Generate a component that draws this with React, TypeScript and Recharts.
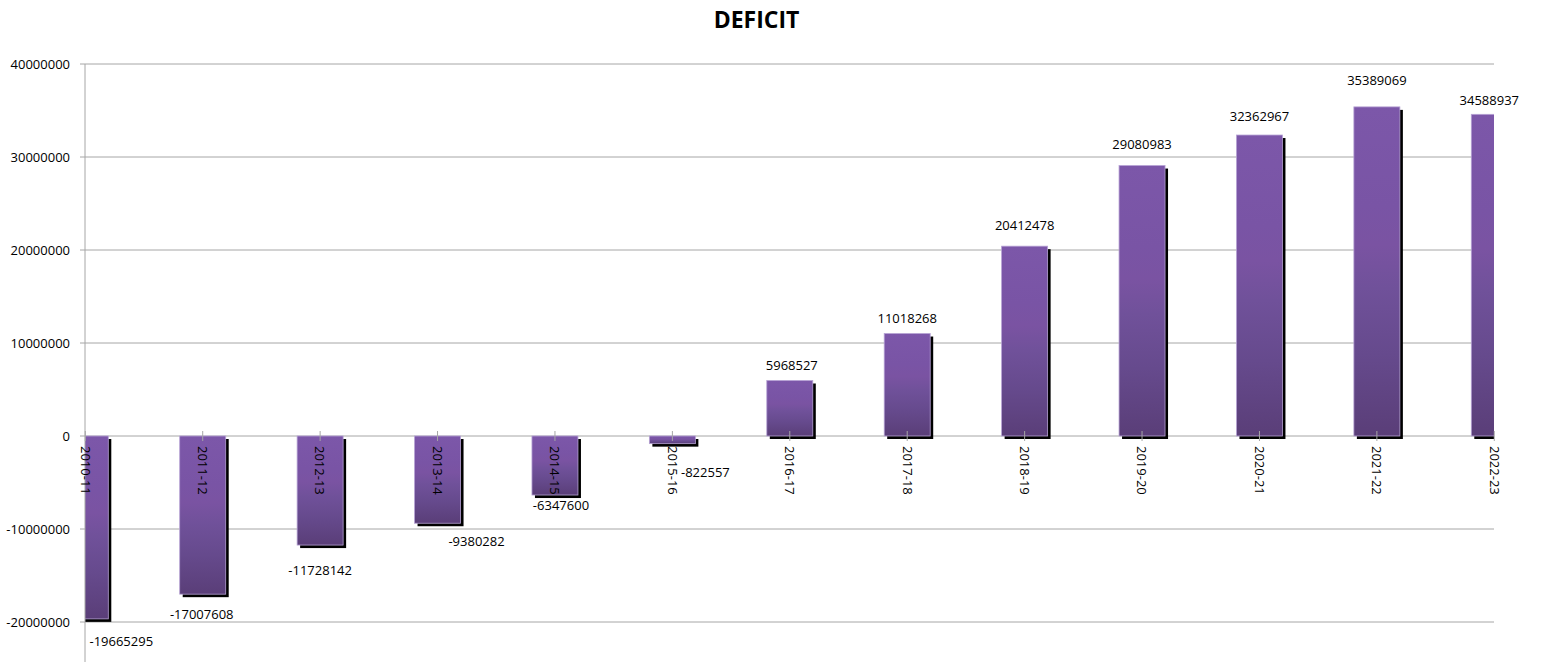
import React from "react";
import {
  BarChart,
  Bar,
  XAxis,
  YAxis,
  CartesianGrid,
  LabelList,
} from "recharts";

// Fiscal years and the yearly deficit for each
const years = [
  "2010-11", "2011-12", "2012-13", "2013-14", "2014-15", "2015-16", "2016-17",
  "2017-18", "2018-19", "2019-20", "2020-21", "2021-22", "2022-23",
];
const deficits = [
  -19665295, -17007608, -11728142, -9380282, -6347600, -822557, 5968527,
  11018268, 20412478, 29080983, 32362967, 35389069, 34588937,
];
const yTicks = [-20000000, -10000000, 0, 10000000, 20000000, 30000000, 40000000];

// Hand-placed value labels: [dx, dy] from the bar's outer end to the label centre
const labelNudge: [number, number][] = [
  [36, 22], [-1, 20], [0, 25], [39, 18], [6, 10], [33, 29], [2, -15],
  [0, -15], [0, -21], [0, -21], [0, -19], [0, -27], [-5, -14],
];

const rows = years.map((year, i) => ({ pos: i, year, deficit: deficits[i] }));

const W = 1541;
const H = 690;
const FONT = "'Open Sans', sans-serif";
const GRID = "#a6a6a6";

const barEdges = (p: any) => {
  const y = Number(p.y);
  const h = Number(p.height);
  return { top: Math.min(y, y + h), bottom: Math.max(y, y + h) };
};

const ShadowBar = (props: any) => {
  const { x, width } = props;
  const { top, bottom } = barEdges(props);
  const h = bottom - top;
  if (!(h > 0)) return null;
  return (
    <g>
      <rect x={x + 3} y={top + 3} width={width} height={h} fill="#000" />
      <rect
        x={x}
        y={top}
        width={width}
        height={h}
        fill="url(#deficitFill)"
        stroke="#b6a2d4"
        strokeWidth={0.8}
      />
    </g>
  );
};

const ValueLabel = (props: any) => {
  const vb = props.viewBox ?? props;
  const index = props.index as number;
  const v = deficits[index];
  const { top, bottom } = barEdges(vb);
  const cx = Number(vb.x) + Number(vb.width) / 2;
  const [dx, dy] = labelNudge[index] ?? [0, v >= 0 ? -16 : 18];
  const cy = v >= 0 ? top + dy : bottom + dy;
  return (
    <text
      x={cx + dx}
      y={cy}
      dy="0.36em"
      textAnchor="middle"
      fontFamily={FONT}
      fontSize={13}
      fill="#000"
    >
      {v}
    </text>
  );
};

const YearLabel = (props: any) => {
  const vb = props.viewBox ?? props;
  const index = props.index as number;
  const v = deficits[index];
  const { top, bottom } = barEdges(vb);
  const zero = v >= 0 ? bottom : top;
  const cx = Number(vb.x) + Number(vb.width) / 2;
  const ty = zero + 10;
  return (
    <g>
      <line x1={cx} x2={cx} y1={zero - 5} y2={zero + 5} stroke={GRID} strokeWidth={1} />
      <text
        x={cx}
        y={ty}
        dy="0.36em"
        transform={`rotate(90 ${cx} ${ty})`}
        textAnchor="start"
        fontFamily={FONT}
        fontSize={13}
        fill="#000"
      >
        {years[index]}
      </text>
    </g>
  );
};

export default function App() {
  return (
    <div style={{ position: "relative", width: W, height: H }}>
      <style>{"html,body{overflow:hidden;margin:0}"}</style>
      <BarChart
        width={W}
        height={H}
        data={rows}
        margin={{ top: 64, right: 47, bottom: 21.5, left: 8 }}
        barSize={46}
      >
        <defs>
          <linearGradient id="deficitFill" x1="0" y1="0" x2="0" y2="1">
            <stop offset="0" stopColor="#7c57a9" />
            <stop offset="0.3" stopColor="#7954a5" />
            <stop offset="0.42" stopColor="#7a53a2" />
            <stop offset="0.55" stopColor="#70519a" />
            <stop offset="0.75" stopColor="#664a8d" />
            <stop offset="1" stopColor="#5a3e78" />
          </linearGradient>
        </defs>
        <CartesianGrid horizontal vertical={false} stroke={GRID} strokeWidth={1} />
        <XAxis
          dataKey="pos"
          type="number"
          domain={[0, 12]}
          allowDataOverflow
          hide
        />
        <YAxis
          type="number"
          domain={[-25000000, 40000000]}
          ticks={yTicks}
          interval={0}
          width={77}
          stroke={GRID}
          tickSize={5}
          tickMargin={10}
          tick={{ fill: "#000", fontSize: 13, fontFamily: FONT }}
          tickFormatter={(v: number) => String(v)}
        />
        <Bar
          dataKey="deficit"
          shape={<ShadowBar />}
          isAnimationActive={false}
        >
          <LabelList dataKey="deficit" content={<ValueLabel />} />
          <LabelList dataKey="year" content={<YearLabel />} />
        </Bar>
      </BarChart>
      <svg
        width={W}
        height={48}
        style={{ position: "absolute", left: 0, top: 0, pointerEvents: "none" }}
      >
        <text
          x={756.5}
          y={28.3}
          textAnchor="middle"
          fontFamily={FONT}
          fontWeight={700}
          fontSize={23}
          fill="#000"
        >
          DEFICIT
        </text>
      </svg>
    </div>
  );
}
